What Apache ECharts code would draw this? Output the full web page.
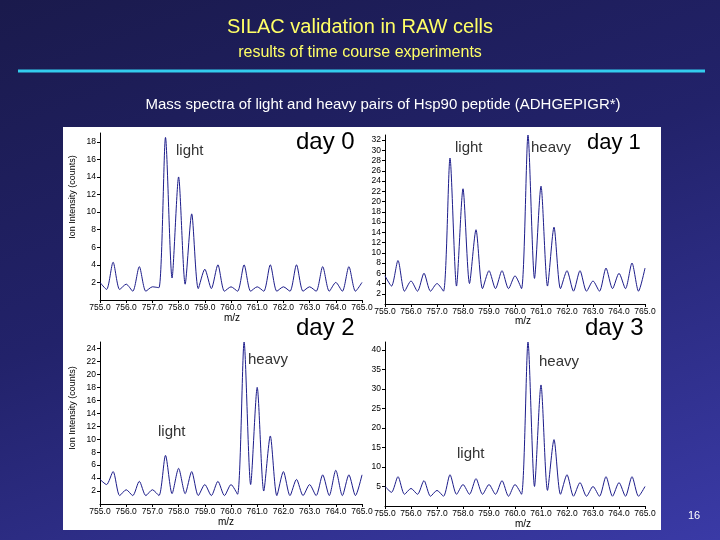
<!DOCTYPE html>
<html>
<head>
<meta charset="utf-8">
<script src="https://cdn.jsdelivr.net/npm/echarts@6/dist/echarts.min.js"></script>
<style>
  html, body { margin: 0; padding: 0; }
  body { width: 720px; height: 540px; background: linear-gradient(160deg, #1a1a4c 0%, #22226a 45%, #3a3aa6 100%); }
  #chart { width: 720px; height: 540px; }
</style>
</head>
<body>
<div id="chart"></div>
<script>
// peak positions (m/z) shared by all spectra
var mzPeaks = [755.0, 755.5, 756.0, 756.5, 757.0, 757.5, 758.0, 758.5, 759.0, 759.5, 760.0,
               760.5, 761.0, 761.5, 762.0, 762.5, 763.0, 763.5, 764.0, 764.5, 765.0];

// peak heights
var day0Peaks = [2, 4.3, 1.8, 3.8, 1.5, 18.5, 14, 9.8, 3.5, 4, 1.5, 4, 1.5, 4, 1.5, 4, 1.5, 3.8, 2, 3.8, 2];
var day1Peaks = [5.5, 8.5, 4.5, 6, 4, 28.5, 22.5, 14.5, 6.5, 6.5, 5.5, 33, 23, 15, 6.5, 6.5, 4.5, 7, 6, 8, 7];
var day2Peaks = [3.8, 5, 2.2, 3.5, 2.2, 7.5, 5.5, 5, 3, 3.5, 3, 25, 18, 10.5, 5, 3.8, 3, 4.5, 5.2, 4.5, 4.5];
var day3Peaks = [5, 7.5, 4.5, 6.5, 4, 8, 5.5, 7, 5.5, 6.5, 5.5, 42, 31, 17, 8, 6, 5, 7.5, 6, 7.5, 5];

// valleys between neighbouring peaks
var day0Troughs = [1.2, 1.2, 1.0, 1.0, 1.4, 2.5, 1.8, 1.3, 1.3, 1.0, 1.0, 1.0, 1.0, 1.0, 1.0, 1.0, 1.0, 1.0, 1.0, 1.0];
var day1Troughs = [3.5, 2.5, 2.5, 2.5, 2.5, 3.5, 4, 3, 3, 3, 3, 5, 3.5, 3, 2.5, 2.5, 2.5, 3, 3, 2.5];
var day2Troughs = [3, 1.3, 1.3, 1.3, 1.3, 1.6, 1.6, 1.3, 1.3, 1.3, 1.5, 3, 2, 1.3, 1.3, 1.3, 1.3, 1.3, 1.3, 1.3];
var day3Troughs = [3.5, 3, 3, 2.5, 2.5, 3, 3, 3, 3, 2.5, 3, 5, 4, 3, 2.5, 2.5, 2.5, 2.5, 2.5, 2.5];

function spectrum(peaks, troughs) {
    var pts = [];
    for (var i = 0; i < mzPeaks.length; i++) {
        pts.push([mzPeaks[i], peaks[i]]);
        if (i < troughs.length) pts.push([mzPeaks[i] + 0.25, troughs[i]]);
    }
    return pts;
}

var chart = echarts.init(document.getElementById('chart'));

var grids = [
    { left: 100, top: 133, width: 262, height: 167 },
    { left: 385, top: 135, width: 260, height: 169 },
    { left: 100, top: 342, width: 262, height: 162 },
    { left: 385, top: 342, width: 260, height: 164 }
];
var yMax = [19, 33, 25, 42];
var yStep = [2, 2, 2, 5];
var series = [spectrum(day0Peaks, day0Troughs), spectrum(day1Peaks, day1Troughs),
              spectrum(day2Peaks, day2Troughs), spectrum(day3Peaks, day3Troughs)];

var axisFont = { color: '#000', fontSize: 8.5, fontFamily: 'Liberation Sans' };

function txt(x, y, s, size, color, extra) {
    var o = { type: 'text', x: x, y: y, z: 10,
        style: { text: s, fontSize: size, fill: color, fontFamily: 'Liberation Sans' } };
    if (extra) for (var k in extra) o.style[k] = extra[k];
    return o;
}

option = {
    backgroundColor: 'transparent',
    animation: false,
    grid: grids,
    xAxis: grids.map(function (g, i) {
        return {
            type: 'value', gridIndex: i, min: 755, max: 765, interval: 1,
            axisLine: { lineStyle: { color: '#000' } },
            axisTick: { length: 3, lineStyle: { color: '#000' } },
            splitLine: { show: false },
            axisLabel: Object.assign({ margin: 3, formatter: function (v) { return v.toFixed(1); } }, axisFont)
        };
    }),
    yAxis: grids.map(function (g, i) {
        return {
            type: 'value', gridIndex: i, min: 0, max: yMax[i], interval: yStep[i],
            axisLine: { show: true, lineStyle: { color: '#000' } },
            axisTick: { show: true, length: 3, lineStyle: { color: '#000' } },
            splitLine: { show: false },
            axisLabel: Object.assign({ margin: 4, showMinLabel: false, showMaxLabel: false }, axisFont)
        };
    }),
    series: series.map(function (d, i) {
        return {
            type: 'line', xAxisIndex: i, yAxisIndex: i, data: d,
            symbol: 'none', smooth: 0.25,
            lineStyle: { color: '#1c1c8a', width: 1 }
        };
    }),
    graphic: [
        { type: 'rect', z: -10, shape: { x: 63, y: 127, width: 598, height: 403 }, style: { fill: '#fff' } },
        { type: 'line', shape: { x1: 18, y1: 71, x2: 705, y2: 71 }, style: { stroke: '#33ccee', lineWidth: 3 } },
        txt(360, 27, 'SILAC validation in RAW cells', 20, '#ffff66', { align: 'center', verticalAlign: 'middle' }),
        txt(360, 53, 'results of time course experiments', 16, '#ffff66', { align: 'center', verticalAlign: 'middle' }),
        txt(383, 105, 'Mass spectra of light and heavy pairs of Hsp90 peptide (ADHGEPIGR*)', 15, '#fff', { align: 'center', verticalAlign: 'middle' }),
        txt(694, 516, '16', 11, '#fff', { align: 'center', verticalAlign: 'middle' }),
        txt(296, 142, 'day 0', 24, '#000', { verticalAlign: 'middle' }),
        txt(587, 143, 'day 1', 22, '#000', { verticalAlign: 'middle' }),
        txt(296, 328, 'day 2', 24, '#000', { verticalAlign: 'middle' }),
        txt(585, 328, 'day 3', 24, '#000', { verticalAlign: 'middle' }),
        txt(176, 151, 'light', 15, '#333', { verticalAlign: 'middle' }),
        txt(455, 148, 'light', 15, '#333', { verticalAlign: 'middle' }),
        txt(531, 148, 'heavy', 15, '#333', { verticalAlign: 'middle' }),
        txt(248, 360, 'heavy', 15, '#333', { verticalAlign: 'middle' }),
        txt(158, 432, 'light', 15, '#333', { verticalAlign: 'middle' }),
        txt(539, 362, 'heavy', 15, '#333', { verticalAlign: 'middle' }),
        txt(457, 454, 'light', 15, '#333', { verticalAlign: 'middle' }),
        txt(232, 318, 'm/z', 10, '#000', { align: 'center', verticalAlign: 'middle' }),
        txt(523, 321, 'm/z', 10, '#000', { align: 'center', verticalAlign: 'middle' }),
        txt(226, 522, 'm/z', 10, '#000', { align: 'center', verticalAlign: 'middle' }),
        txt(523, 524, 'm/z', 10, '#000', { align: 'center', verticalAlign: 'middle' }),
        { type: 'text', x: 73, y: 197, rotation: Math.PI / 2, z: 10,
          style: { text: 'Ion Intensity (counts)', fontSize: 9, fill: '#000', fontFamily: 'Liberation Sans', align: 'center', verticalAlign: 'middle' } },
        { type: 'text', x: 73, y: 408, rotation: Math.PI / 2, z: 10,
          style: { text: 'Ion Intensity (counts)', fontSize: 9, fill: '#000', fontFamily: 'Liberation Sans', align: 'center', verticalAlign: 'middle' } }
    ]
};

chart.setOption(option);
</script>
</body>
</html>
